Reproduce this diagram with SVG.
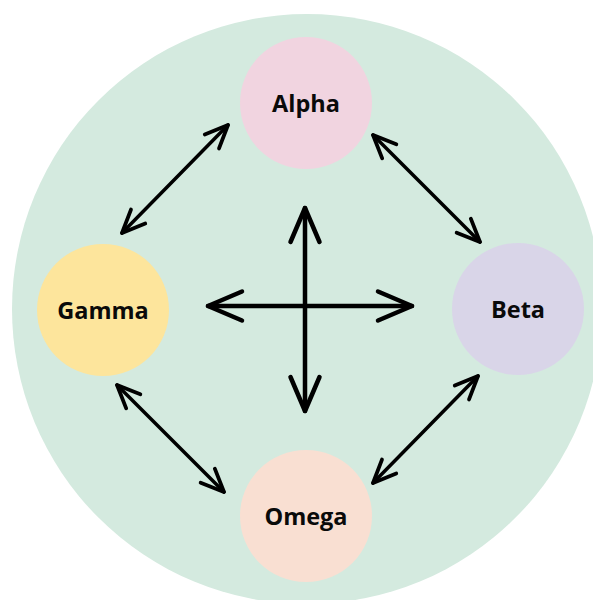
<svg xmlns="http://www.w3.org/2000/svg" width="593" height="600" viewBox="0 0 593 600">
  <style>
    .lbl { font-family: "Open Sans", "Liberation Sans", sans-serif; font-weight: 700; font-size: 23.5px; fill: #0a0a0a; text-anchor: middle; }
    .conn { stroke: #000; fill: none; stroke-linecap: round; stroke-linejoin: round; }
    .diag { stroke-width: 3.5; marker-start: url(#headS); marker-end: url(#headS); }
    .cross { stroke-width: 4.5; marker-start: url(#headL); marker-end: url(#headL); }
  </style>
  <defs>
    <marker id="headS" markerUnits="userSpaceOnUse" orient="auto-start-reverse" refX="0" refY="0" viewBox="-30 -15 35 30" markerWidth="35" markerHeight="30" overflow="visible">
      <path d="M-23,-10 L0,0 L-23,10" fill="none" stroke="#000" stroke-width="3.8" stroke-linecap="round" stroke-linejoin="round"/>
    </marker>
    <marker id="headL" markerUnits="userSpaceOnUse" orient="auto-start-reverse" refX="0" refY="0" viewBox="-40 -20 45 40" markerWidth="45" markerHeight="40" overflow="visible">
      <path d="M-34,-14.5 L0,0 L-34,14.5" fill="none" stroke="#000" stroke-width="4.5" stroke-linecap="round" stroke-linejoin="round"/>
    </marker>
  </defs>
  <rect width="593" height="600" fill="#ffffff"/>
  <circle id="background" cx="307" cy="309" r="295" fill="#d4eadf"/>
  <g id="connectors">
    <line class="conn diag" x1="122" y1="233" x2="228" y2="125"/>
    <line class="conn diag" x1="373" y1="135" x2="480" y2="242"/>
    <line class="conn diag" x1="117" y1="385" x2="224" y2="492"/>
    <line class="conn diag" x1="373" y1="483" x2="478" y2="376"/>
    <line class="conn cross" x1="305" y1="208" x2="305" y2="411"/>
    <line class="conn cross" x1="208" y1="306" x2="412" y2="306"/>
  </g>
  <g id="alpha">
    <circle cx="306" cy="103" r="66" fill="#f1d4e0"/>
    <text class="lbl" x="306" y="112">Alpha</text>
  </g>
  <g id="beta">
    <circle cx="518" cy="309" r="66" fill="#d9d5e8"/>
    <text class="lbl" x="518" y="318">Beta</text>
  </g>
  <g id="gamma">
    <circle cx="103" cy="310" r="66" fill="#fde59c"/>
    <text class="lbl" x="103" y="319">Gamma</text>
  </g>
  <g id="omega">
    <circle cx="306" cy="516" r="66" fill="#f9dfd2"/>
    <text class="lbl" x="306" y="525">Omega</text>
  </g>
</svg>
